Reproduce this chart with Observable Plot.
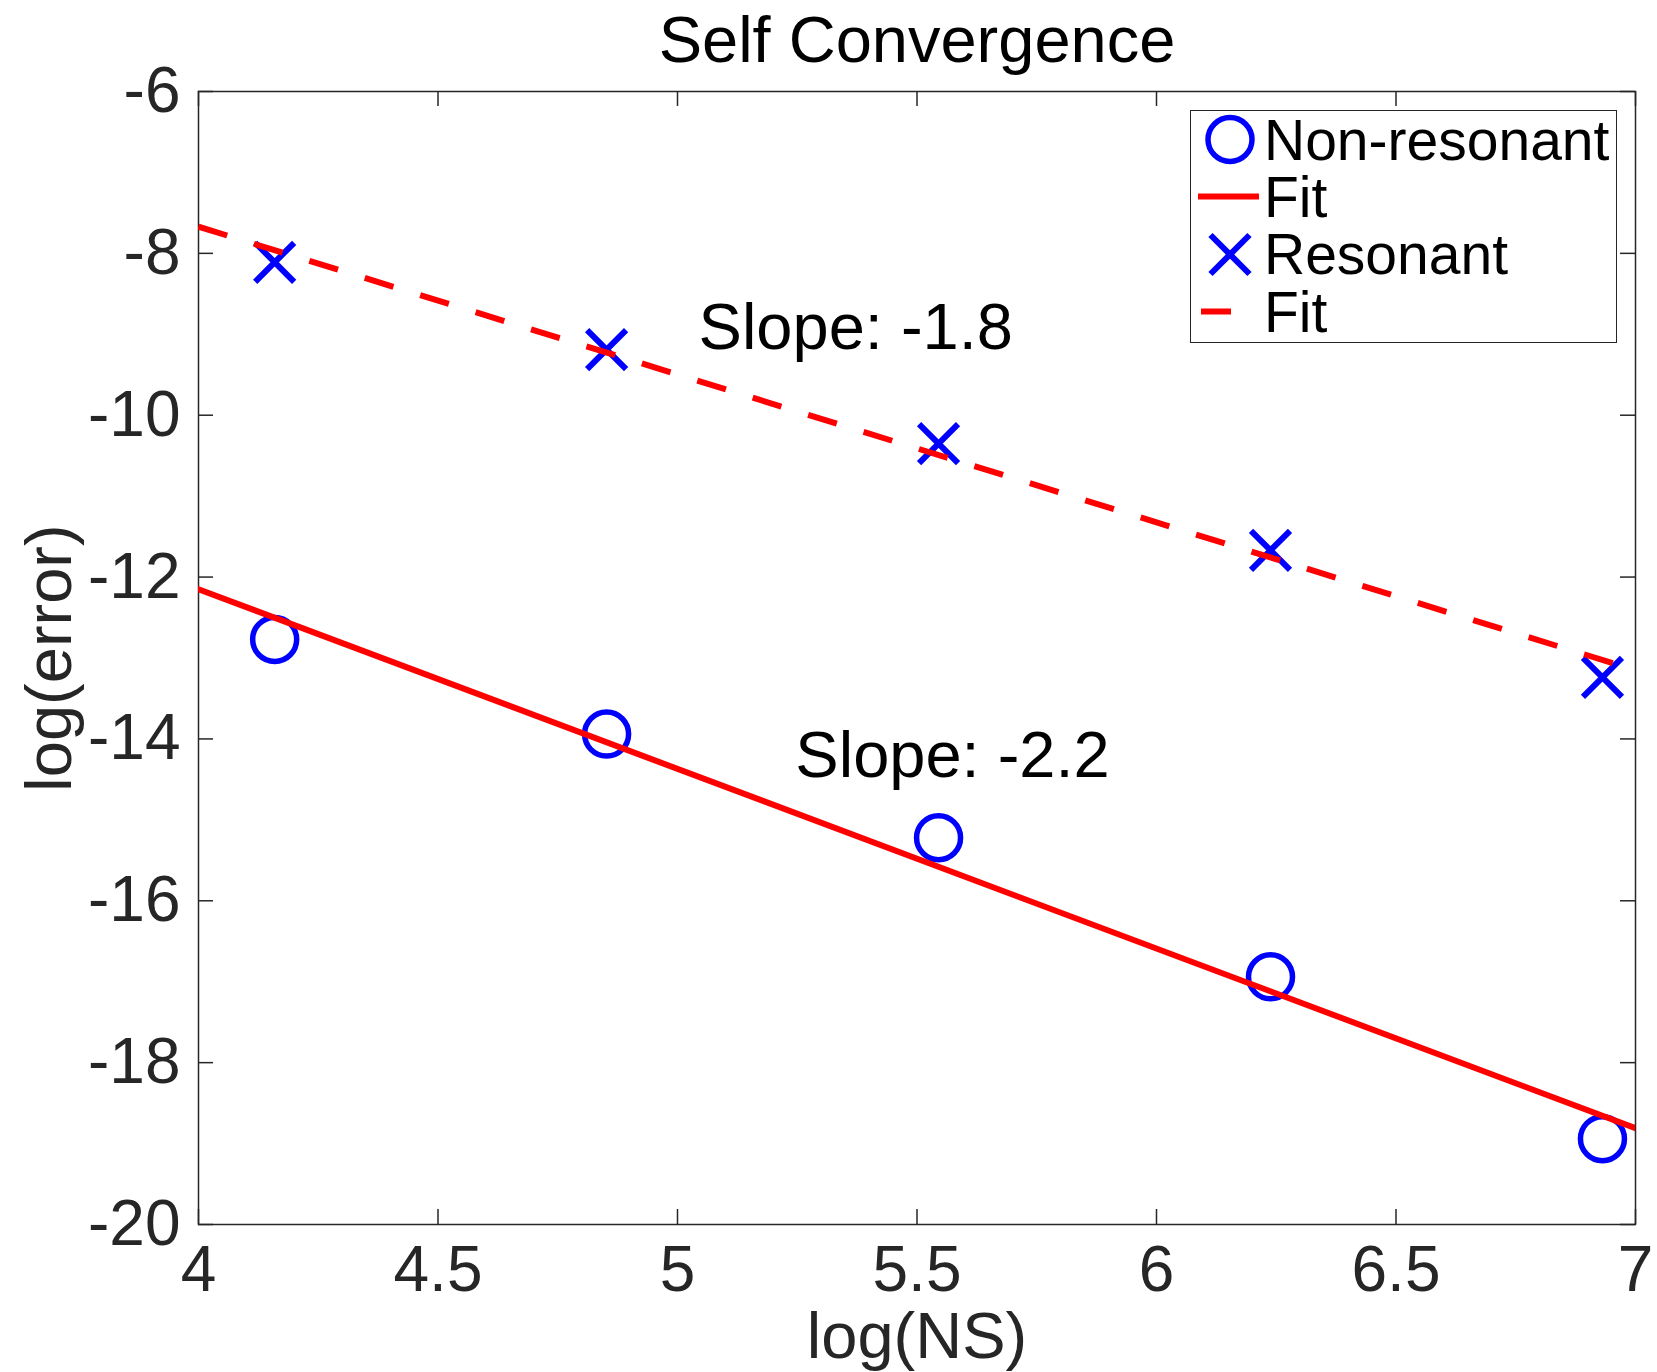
<!DOCTYPE html>
<html>
<head>
<meta charset="utf-8">
<script src="https://cdn.jsdelivr.net/npm/d3@7"></script>
<script src="https://cdn.jsdelivr.net/npm/@observablehq/plot@0.6"></script>
<style>
  html, body { margin: 0; padding: 0; background: #fff; }
  #wrap { position: relative; width: 1657px; height: 1372px; }
  #legend { position: absolute; left: 1190px; top: 110px; width: 427px; height: 233px;
    border: 1.5px solid #262626; background: #fff; box-sizing: border-box;
    font-family: 'Liberation Sans', Arial, Helvetica, sans-serif; }
  #legend .row { display: flex; align-items: center; height: 57.3px; overflow: visible; }
  #legend svg { flex: 0 0 auto; }
  #legend span { display: block; height: 56px; font-size: 57px; line-height: 56px; color: #000; white-space: nowrap; }
</style>
</head>
<body>
<div id="wrap"></div>
<script>
// ---- data ----
const logNS = [4.159, 4.852, 5.545, 6.238, 6.931];
const nonResonant = [-12.77, -13.94, -15.22, -16.94, -18.94];
const resonant = [-8.11, -9.19, -10.35, -11.67, -13.24];
const fitX = [4, 7];
const fitNonResonant = [-12.15, -18.81];
const fitResonant = [-7.67, -13.15];
const xTicks = [4, 4.5, 5, 5.5, 6, 6.5, 7];
const yTicks = [-20, -18, -16, -14, -12, -10, -8, -6];
const annotX = [5.044, 5.246];
const annotY = [-8.92, -14.21];
const annotText = ["Slope: -1.8", "Slope: -2.2"];
const titleText = "Self Convergence";
const xLabel = "log(NS)";
const yLabel = "log(error)";
const legendItems = [
  {label: "Non-resonant", kind: "circle"},
  {label: "Fit", kind: "solid"},
  {label: "Resonant", kind: "cross"},
  {label: "Fit", kind: "dashed"}
];

// ---- layout ----
const W = 1657, H = 1372;
const mL = 198, mR = 22, mT = 91, mB = 148;
const plotW = W - mL - mR, plotH = H - mT - mB;
const tickLen = 15;
const fontFamily = "'Liberation Sans', Arial, Helvetica, sans-serif";
const axisColor = "#262626";
const fsTick = 64;
const fs = 65;

const nonResPts = logNS.map((x, i) => ({x, y: nonResonant[i]}));
const resPts = logNS.map((x, i) => ({x, y: resonant[i]}));
const fitNonPts = fitX.map((x, i) => ({x, y: fitNonResonant[i]}));
const fitResPts = fitX.map((x, i) => ({x, y: fitResonant[i]}));
const annots = annotX.map((x, i) => ({x, y: annotY[i], t: annotText[i]}));

const crossSymbol = {
  draw(context, size) {
    const h = Math.sqrt(size / Math.PI);
    context.moveTo(-h, -h); context.lineTo(h, h);
    context.moveTo(-h, h); context.lineTo(h, -h);
  }
};

const chart = Plot.plot({
  width: W, height: H,
  marginLeft: mL, marginRight: mR, marginTop: mT, marginBottom: mB,
  style: {fontFamily, color: axisColor, background: "#fff"},
  x: {domain: [4, 7]},
  y: {domain: [-20, -6]},
  marks: [
    Plot.axisX({ticks: xTicks, tickSize: 0, tickPadding: 21, fontSize: fsTick, tickFormat: d => String(d), label: null, fill: axisColor}),
    Plot.axisY({ticks: yTicks, tickSize: 0, tickPadding: 18, fontSize: fsTick, tickFormat: d => String(d), label: null, fill: axisColor}),
    Plot.ruleX(xTicks, {x: d => d, insetTop: plotH - tickLen, stroke: axisColor, strokeWidth: 1.5}),
    Plot.ruleX(xTicks, {x: d => d, insetBottom: plotH - tickLen, stroke: axisColor, strokeWidth: 1.5}),
    Plot.ruleY(yTicks, {y: d => d, insetRight: plotW - tickLen, stroke: axisColor, strokeWidth: 1.5}),
    Plot.ruleY(yTicks, {y: d => d, insetLeft: plotW - tickLen, stroke: axisColor, strokeWidth: 1.5}),
    Plot.frame({stroke: axisColor, strokeWidth: 1.5}),
    Plot.dot(nonResPts, {x: "x", y: "y", r: 22, symbol: "circle", stroke: "#0000ff", strokeWidth: 5.5, fill: "none"}),
    Plot.line(fitNonPts, {x: "x", y: "y", stroke: "#ff0000", strokeWidth: 6, clip: true}),
    Plot.dot(resPts, {x: "x", y: "y", r: 19.5, symbol: crossSymbol, stroke: "#0000ff", strokeWidth: 6, fill: "none"}),
    Plot.line(fitResPts, {x: "x", y: "y", stroke: "#ff0000", strokeWidth: 6, strokeDasharray: "30,28", strokeLinecap: "butt", clip: true}),
    Plot.text(annots, {x: "x", y: "y", text: "t", textAnchor: "start", lineAnchor: "middle", fontSize: fs, fill: "#000"}),
    Plot.text([titleText], {frameAnchor: "top", dy: -50, textAnchor: "middle", lineAnchor: "middle", fontSize: fs, fill: "#000"}),
    Plot.text([xLabel], {frameAnchor: "bottom", dy: 113, textAnchor: "middle", lineAnchor: "middle", fontSize: fs, fill: axisColor}),
    Plot.text([yLabel], {frameAnchor: "left", dx: -148, rotate: -90, textAnchor: "middle", lineAnchor: "middle", fontSize: fs, fill: axisColor})
  ]
});

const wrap = document.getElementById("wrap");
wrap.appendChild(chart);

// ---- legend ----
const legend = document.createElement("div");
legend.id = "legend";
const NS = "http://www.w3.org/2000/svg";
for (const item of legendItems) {
  const row = document.createElement("div");
  row.className = "row";
  const svg = document.createElementNS(NS, "svg");
  svg.setAttribute("width", 73);
  svg.setAttribute("height", 57);
  const cy = 28.5;
  if (item.kind === "circle") {
    const c = document.createElementNS(NS, "circle");
    c.setAttribute("cx", 39); c.setAttribute("cy", cy); c.setAttribute("r", 22);
    c.setAttribute("fill", "none"); c.setAttribute("stroke", "#0000ff"); c.setAttribute("stroke-width", 5.5);
    svg.appendChild(c);
  } else if (item.kind === "cross") {
    const p = document.createElementNS(NS, "path");
    const h = 19.5;
    p.setAttribute("d", `M${39-h},${cy-h}L${39+h},${cy+h}M${39-h},${cy+h}L${39+h},${cy-h}`);
    p.setAttribute("stroke", "#0000ff"); p.setAttribute("stroke-width", 6); p.setAttribute("fill", "none");
    svg.appendChild(p);
  } else {
    const l = document.createElementNS(NS, "line");
    const dashed = item.kind === "dashed";
    l.setAttribute("x1", dashed ? 10 : 7); l.setAttribute("x2", dashed ? 40 : 68);
    l.setAttribute("y1", cy); l.setAttribute("y2", cy);
    l.setAttribute("stroke", "#ff0000"); l.setAttribute("stroke-width", 6);
    svg.appendChild(l);
  }
  row.appendChild(svg);
  const span = document.createElement("span");
  span.textContent = item.label;
  row.appendChild(span);
  legend.appendChild(row);
}
wrap.appendChild(legend);
</script>
</body>
</html>
